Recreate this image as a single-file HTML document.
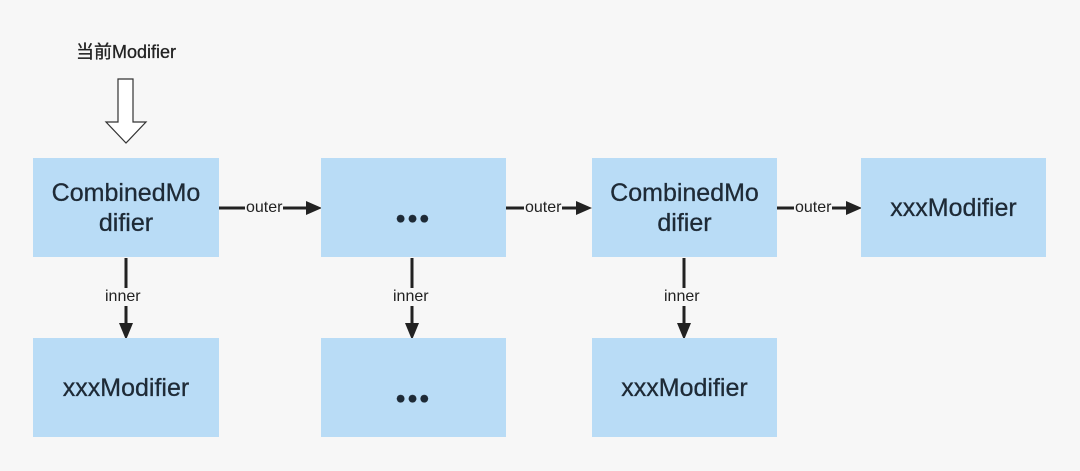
<!DOCTYPE html>
<html><head><meta charset="utf-8"><style>
body{margin:0;width:1080px;height:471px;background:#f7f7f7;position:relative;overflow:hidden;font-family:"Liberation Sans","Noto Sans CJK SC",sans-serif;}
.b{position:absolute;background:#b9dcf6;color:#1e2a36;font-size:25px;display:flex;align-items:center;justify-content:center;text-align:center;line-height:30px;-webkit-text-stroke:0.3px #1e2a36;}
.d{font-size:28px;letter-spacing:2px;padding-top:22px;box-sizing:border-box;}
.l{position:absolute;font-size:16px;color:#222;background:#f7f7f7;padding:0 1px;}
</style></head><body>
<div style="position:absolute;left:76px;top:38px;font-size:18px;color:#222;-webkit-text-stroke:0.3px #222;">当前Modifier</div>
<svg width="1080" height="471" style="position:absolute;left:0;top:0">
<polygon points="118,79 133,79 133,122 146,122 126,143 106,122 118,122" fill="#fff" stroke="#333" stroke-width="1.2"/>
<g stroke="#222" stroke-width="3" fill="#222">
<line x1="219" y1="208" x2="308" y2="208"/><polygon points="322,208 306,201 306,215" stroke="none"/>
<line x1="506" y1="208" x2="578" y2="208"/><polygon points="592,208 576,201 576,215" stroke="none"/>
<line x1="777" y1="208" x2="848" y2="208"/><polygon points="862,208 846,201 846,215" stroke="none"/>
<line x1="126" y1="258" x2="126" y2="325"/><polygon points="126,340 119,323 133,323" stroke="none"/>
<line x1="412" y1="258" x2="412" y2="325"/><polygon points="412,340 405,323 419,323" stroke="none"/>
<line x1="684" y1="258" x2="684" y2="325"/><polygon points="684,340 677,323 691,323" stroke="none"/>
</g></svg>
<div class="b" style="left:33px;top:158px;width:186px;height:99px">CombinedMo<br>difier</div>
<div class="b d" style="left:321px;top:158px;width:185px;height:99px">•••</div>
<div class="b" style="left:592px;top:158px;width:185px;height:99px">CombinedMo<br>difier</div>
<div class="b" style="left:861px;top:158px;width:185px;height:99px">xxxModifier</div>
<div class="b" style="left:33px;top:338px;width:186px;height:99px">xxxModifier</div>
<div class="b d" style="left:321px;top:338px;width:185px;height:99px">•••</div>
<div class="b" style="left:592px;top:338px;width:185px;height:99px">xxxModifier</div>
<div class="l" style="left:245px;top:199px">outer</div>
<div class="l" style="left:524px;top:199px">outer</div>
<div class="l" style="left:794px;top:199px">outer</div>
<div class="l" style="left:104px;top:288px">inner</div>
<div class="l" style="left:392px;top:288px">inner</div>
<div class="l" style="left:663px;top:288px">inner</div>
</body></html>
